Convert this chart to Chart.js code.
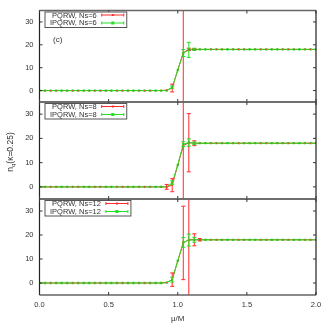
<!DOCTYPE html>
<html><head><meta charset="utf-8">
<script src="https://cdn.jsdelivr.net/npm/chart.js@4.4.0/dist/chart.umd.min.js"></script>
<style>
html,body{margin:0;padding:0;background:#fff;}
#wrap{position:relative;width:332px;height:332px;overflow:hidden;}
canvas{position:absolute;left:0;top:0;}
</style></head><body>
<div id="wrap">
<canvas id="c1" width="332" height="332"></canvas>
<canvas id="c2" width="332" height="332"></canvas>
<canvas id="c3" width="332" height="332"></canvas>
</div>
<script>
// ---- data ----
const mu = [0.00,0.04,0.08,0.12,0.16,0.20,0.24,0.28,0.32,0.36,0.40,0.44,0.48,0.52,0.56,0.60,0.64,0.68,0.72,0.76,0.80,0.84,0.88,
            0.92,0.96,1.00,1.04,1.08,1.12,
            1.16,1.20,1.24,1.28,1.32,1.36,1.40,1.44,1.48,1.52,1.56,1.60,1.64,1.68,1.72,1.76,1.80,1.84,1.88,1.92,1.96,2.00];
const xTicks = [0, 0.5, 1.0, 1.5, 2.0];
const yTicks = [0, 10, 20, 30];

const pqrw6     = [0,0,0,0,0,0,0,0,0,0,0,0,0,0,0,0,0,0,0,0,0,0,0, 0.2,1.1,9.0,16.5,18.0,18.0, 18,18,18,18,18,18,18,18,18,18,18,18,18,18,18,18,18,18,18,18,18,18];
const pqrw6Err  = [0,0,0,0,0,0,0,0,0,0,0,0,0,0,0,0,0,0,0,0,0,0,0, 0,1.7,0,30,0.5,0.3, 0,0,0,0,0,0,0,0,0,0,0,0,0,0,0,0,0,0,0,0,0,0];
const ipqrw6    = [0,0,0,0,0,0,0,0,0,0,0,0,0,0,0,0,0,0,0,0,0,0,0, 0.0,1.5,8.9,16.4,17.8,18.0, 18,18,18,18,18,18,18,18,18,18,18,18,18,18,18,18,18,18,18,18,18,18];
const ipqrw6Err = [0,0,0,0,0,0,0,0,0,0,0,0,0,0,0,0,0,0,0,0,0,0,0, 0,0.5,0,1.5,3.3,0.5, 0,0,0,0,0,0,0,0,0,0,0,0,0,0,0,0,0,0,0,0,0,0];

const pqrw8     = [0,0,0,0,0,0,0,0,0,0,0,0,0,0,0,0,0,0,0,0,0,0,0, 0.0,0.7,9.0,17.0,18.2,18.0, 18,18,18,18,18,18,18,18,18,18,18,18,18,18,18,18,18,18,18,18,18,18];
const pqrw8Err  = [0,0,0,0,0,0,0,0,0,0,0,0,0,0,0,0,0,0,0,0,0,0,0, 1.0,2.7,0,40,12,1.0, 0,0,0,0,0,0,0,0,0,0,0,0,0,0,0,0,0,0,0,0,0,0];
const ipqrw8    = [0,0,0,0,0,0,0,0,0,0,0,0,0,0,0,0,0,0,0,0,0,0,0, 0.0,1.7,9.0,17.6,18.3,18.0, 18,18,18,18,18,18,18,18,18,18,18,18,18,18,18,18,18,18,18,18,18,18];
const ipqrw8Err = [0,0,0,0,0,0,0,0,0,0,0,0,0,0,0,0,0,0,0,0,0,0,0, 0,0.8,0,1.0,1.5,0.5, 0,0,0,0,0,0,0,0,0,0,0,0,0,0,0,0,0,0,0,0,0,0];

const pqrw12     = [0,0,0,0,0,0,0,0,0,0,0,0,0,0,0,0,0,0,0,0,0,0,0, 0.2,1.4,9.2,16.7,18.0,18.0, 18,18,18,18,18,18,18,18,18,18,18,18,18,18,18,18,18,18,18,18,18,18];
const pqrw12Err  = [0,0,0,0,0,0,0,0,0,0,0,0,0,0,0,0,0,0,0,0,0,0,0, 0,2.8,0,15.3,45,2.5, 0.5,0,0,0,0,0,0,0,0,0,0,0,0,0,0,0,0,0,0,0,0,0];
const ipqrw12    = [0,0,0,0,0,0,0,0,0,0,0,0,0,0,0,0,0,0,0,0,0,0,0, 0.2,1.4,9.2,16.9,17.9,18.0, 18,18,18,18,18,18,18,18,18,18,18,18,18,18,18,18,18,18,18,18,18,18];
const ipqrw12Err = [0,0,0,0,0,0,0,0,0,0,0,0,0,0,0,0,0,0,0,0,0,0,0, 0,1.0,0,2.0,2.5,1.0, 0,0,0,0,0,0,0,0,0,0,0,0,0,0,0,0,0,0,0,0,0,0];

const panelNs = ['6', '8', '12'];
// ---- style ----
const RED = '#ff2a2a';
const GREEN = '#22e022';
const FONT = '"Liberation Sans", Arial, sans-serif';
const TXT = '#333';

function pts(vals){ return mu.map((m,i)=>({x:m, y:vals[i]})); }

function makePanel(id, top, bottom, red, redErr, green, greenErr, ns, isBottom, tag){
  const plugin = {
    id: 'deco'+id,
    afterDatasetsDraw(chart){
      const ctx = chart.ctx, a = chart.chartArea;
      const xs = chart.scales.x, ys = chart.scales.y;
      ctx.save();
      ctx.beginPath(); ctx.rect(a.left, a.top, a.right-a.left, a.bottom-a.top); ctx.clip();
      function bars(vals, errs, col){
        ctx.strokeStyle = col; ctx.lineWidth = 1;
        for(let i=0;i<mu.length;i++){
          if(!errs[i]) continue;
          const px = xs.getPixelForValue(mu[i]);
          const y1 = ys.getPixelForValue(vals[i]-errs[i]);
          const y2 = ys.getPixelForValue(vals[i]+errs[i]);
          ctx.beginPath(); ctx.moveTo(px,y1); ctx.lineTo(px,y2);
          ctx.moveTo(px-2,y1); ctx.lineTo(px+2,y1);
          ctx.moveTo(px-2,y2); ctx.lineTo(px+2,y2);
          ctx.stroke();
        }
      }
      bars(red, redErr, RED);
      bars(green, greenErr, GREEN);
      ctx.restore();
    },
    afterDraw(chart){
      const ctx = chart.ctx, a = chart.chartArea;
      const xs = chart.scales.x, ys = chart.scales.y;
      ctx.save();
      // frame
      ctx.lineWidth = 1.4; ctx.strokeStyle = '#666';
      ctx.beginPath(); ctx.moveTo(a.left,a.top); ctx.lineTo(a.right,a.top);
      ctx.moveTo(a.left,a.bottom); ctx.lineTo(a.right,a.bottom); ctx.stroke();
      ctx.lineWidth = 1.2; ctx.strokeStyle = '#222';
      ctx.beginPath(); ctx.moveTo(a.left,a.top); ctx.lineTo(a.left,a.bottom);
      ctx.moveTo(a.right,a.top); ctx.lineTo(a.right,a.bottom); ctx.stroke();
      // inward ticks
      ctx.lineWidth = 1; ctx.strokeStyle = '#333';
      ctx.beginPath();
      xTicks.forEach(v=>{ const px = xs.getPixelForValue(v);
        ctx.moveTo(px,a.top); ctx.lineTo(px,a.top+3);
        ctx.moveTo(px,a.bottom); ctx.lineTo(px,a.bottom-3); });
      yTicks.forEach(v=>{ const py = ys.getPixelForValue(v);
        ctx.moveTo(a.left,py); ctx.lineTo(a.left+3,py);
        ctx.moveTo(a.right,py); ctx.lineTo(a.right-3,py); });
      ctx.stroke();
      // legend
      ctx.font = '7.5px ' + FONT;
      const l1 = 'PQRW, Ns=' + ns, l2 = 'IPQRW, Ns=' + ns;
      const tw = Math.max(ctx.measureText(l1).width, ctx.measureText(l2).width);
      const bx = 45, by = a.top + 1.5;
      const tEnd = bx + 5 + tw;
      const s0 = tEnd + 5, s1 = s0 + 22;
      const bw = s1 + 3 - bx, bh = 15.5;
      ctx.fillStyle = '#fff'; ctx.fillRect(bx, by, bw, bh);
      ctx.strokeStyle = '#555'; ctx.lineWidth = 1; ctx.strokeRect(bx, by, bw, bh);
      ctx.fillStyle = TXT; ctx.textAlign = 'right'; ctx.textBaseline = 'middle';
      const r1 = a.top + 5, r2 = a.top + 12.5;
      ctx.fillText(l1, tEnd, r1); ctx.fillText(l2, tEnd, r2);
      function sample(y, col, sq){
        ctx.strokeStyle = col; ctx.lineWidth = 1;
        ctx.beginPath(); ctx.moveTo(s0,y); ctx.lineTo(s1,y);
        ctx.moveTo(s0,y-1.5); ctx.lineTo(s0,y+1.5);
        ctx.moveTo(s1,y-1.5); ctx.lineTo(s1,y+1.5); ctx.stroke();
        ctx.fillStyle = col;
        const m = (s0+s1)/2, r = sq ? 1.5 : 1;
        ctx.fillRect(m-r, y-r, 2*r, 2*r);
      }
      sample(r1-0.5, RED, false);
      sample(r2, GREEN, true);
      if(tag){
        ctx.fillStyle = TXT; ctx.textAlign = 'left'; ctx.font = '8px ' + FONT;
        ctx.fillText(tag, 53, a.top + 29);
      }
      if(id === 'c2'){
        // y axis title n_q(κ=0.25)
        ctx.save();
        ctx.translate(11, 152); ctx.rotate(-Math.PI/2);
        ctx.fillStyle = TXT; ctx.textBaseline = 'middle'; ctx.textAlign = 'left';
        const fBig = '8.5px ' + FONT, fSm = '6px ' + FONT;
        ctx.font = fBig; const wn = ctx.measureText('n').width; const wr = ctx.measureText('(κ=0.25)').width;
        ctx.font = fSm; const wq = ctx.measureText('q').width;
        let x0 = -(wn+wq+wr)/2;
        ctx.font = fBig; ctx.fillText('n', x0, 0);
        ctx.font = fSm; ctx.fillText('q', x0+wn, 2.5);
        ctx.font = fBig; ctx.fillText('(κ=0.25)', x0+wn+wq, 0);
        ctx.restore();
      }
      ctx.restore();
    }
  };
  const xScale = { type: 'linear', min: 0, max: 2, display: isBottom,
             afterBuildTicks: s => { s.ticks = xTicks.map(v=>({value:v})); },
             grid: { display: false, drawTicks: false }, border: { display: false },
             ticks: { padding: 5, maxRotation: 0, autoSkip: false, color: TXT,
                      font: { family: FONT, size: 7.5 }, callback: v => v.toFixed(1) },
             title: { display: true, text: 'μ/M', color: TXT, font: { family: FONT, size: 8 },
                      padding: { top: 0, bottom: 8 } } };
  if (isBottom) xScale.afterFit = s => { s.height = 332 - bottom; };
  return new Chart(document.getElementById(id), {
    type: 'line',
    data: { datasets: [
      { label:'PQRW, Ns='+ns, data: pts(red), borderColor: RED, borderWidth: 1, pointRadius: 0, order: 3, tension: 0 },
      { label:'IPQRW, Ns='+ns, data: pts(green), borderColor: GREEN, backgroundColor: GREEN, borderWidth: 1,
        pointStyle: 'rect', pointRadius: 1.6, pointBorderWidth: 0, order: 2, tension: 0 },
      { label:'PQRW pts', data: pts(red), showLine: false, pointStyle: 'rect', pointRadius: 0.8,
        backgroundColor: RED, pointBorderWidth: 0, order: 1 }
    ]},
    options: {
      responsive: false, animation: false, devicePixelRatio: 1,
      layout: { padding: { left: 0, right: 16, top: top, bottom: isBottom ? 0 : 332 - bottom } },
      plugins: { legend: { display: false }, tooltip: { enabled: false } },
      scales: {
        x: xScale,
        y: { type: 'linear', min: -5, max: 35,
             afterBuildTicks: s => { s.ticks = yTicks.map(v=>({value:v})); },
             afterFit: s => { s.width = 39.5; },
             grid: { display: false, drawTicks: false }, border: { display: false },
             ticks: { padding: 6, color: TXT, font: { family: FONT, size: 7.5 } } }
      }
    },
    plugins: [plugin]
  });
}

makePanel('c1', 10, 102, pqrw6, pqrw6Err, ipqrw6, ipqrw6Err, panelNs[0], false, '(c)');
makePanel('c2', 102, 199, pqrw8, pqrw8Err, ipqrw8, ipqrw8Err, panelNs[1], false, null);
makePanel('c3', 199, 295, pqrw12, pqrw12Err, ipqrw12, ipqrw12Err, panelNs[2], true, null);
</script>
</body></html>
